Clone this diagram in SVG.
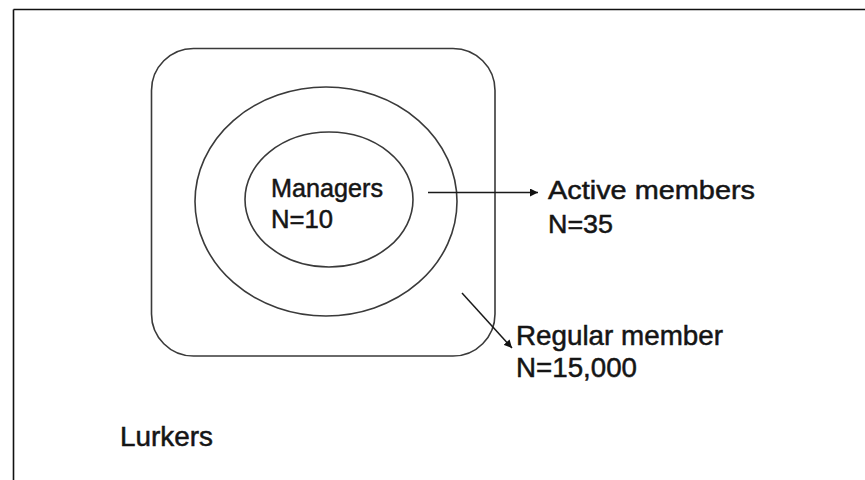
<svg xmlns="http://www.w3.org/2000/svg" width="865" height="480" viewBox="0 0 865 480">
<style>
.shape{fill:none;stroke:#3a3a3a;stroke-width:1.6}
.lbl{font-family:"Liberation Sans",Arial,sans-serif;fill:#151515;stroke:#151515;stroke-width:0.5}
.conn{stroke:#1a1a1a;stroke-width:1.5;fill:none}
</style>
<defs>
<marker id="ah" viewBox="0 0 10 10" refX="10" refY="5" markerWidth="8" markerHeight="8" markerUnits="userSpaceOnUse" orient="auto">
<path d="M0,0 L10,5 L0,10 z" fill="#111"/>
</marker>
</defs>
<rect width="865" height="480" fill="#fff"/>
<g id="frame">
<line x1="13.5" y1="9.5" x2="865" y2="9.5" stroke="#111" stroke-width="1.6"/>
<line x1="13.5" y1="9.5" x2="13.5" y2="480" stroke="#111" stroke-width="1.6"/>
</g>
<g id="regular">
<rect class="shape" x="151.5" y="48.5" width="343.5" height="307.5" rx="42" ry="42"/>
</g>
<g id="active">
<ellipse class="shape" cx="326" cy="201.5" rx="131" ry="114.5"/>
</g>
<g id="managers">
<ellipse class="shape" cx="329" cy="199.5" rx="84" ry="67.5"/>
<text class="lbl" x="271" y="197" font-size="25.5" textLength="112" lengthAdjust="spacingAndGlyphs">Managers</text>
<text class="lbl" x="271" y="228" font-size="25.5" textLength="62" lengthAdjust="spacingAndGlyphs">N=10</text>
</g>
<g id="active-label">
<text class="lbl" x="548" y="199" font-size="26" textLength="207" lengthAdjust="spacingAndGlyphs">Active members</text>
<text class="lbl" x="548" y="233" font-size="26" textLength="65" lengthAdjust="spacingAndGlyphs">N=35</text>
</g>
<g id="regular-label">
<text class="lbl" x="516" y="345" font-size="27.5" textLength="207" lengthAdjust="spacingAndGlyphs">Regular member</text>
<text class="lbl" x="516" y="377" font-size="27.5" textLength="121" lengthAdjust="spacingAndGlyphs">N=15,000</text>
</g>
<g id="lurkers">
<text class="lbl" x="120" y="446" font-size="27.5" textLength="93" lengthAdjust="spacingAndGlyphs">Lurkers</text>
</g>
<g id="connectors">
<line class="conn" x1="428" y1="192.5" x2="538" y2="192.5" marker-end="url(#ah)"/>
<line class="conn" x1="462" y1="293" x2="512" y2="348" marker-end="url(#ah)"/>
</g>
</svg>
